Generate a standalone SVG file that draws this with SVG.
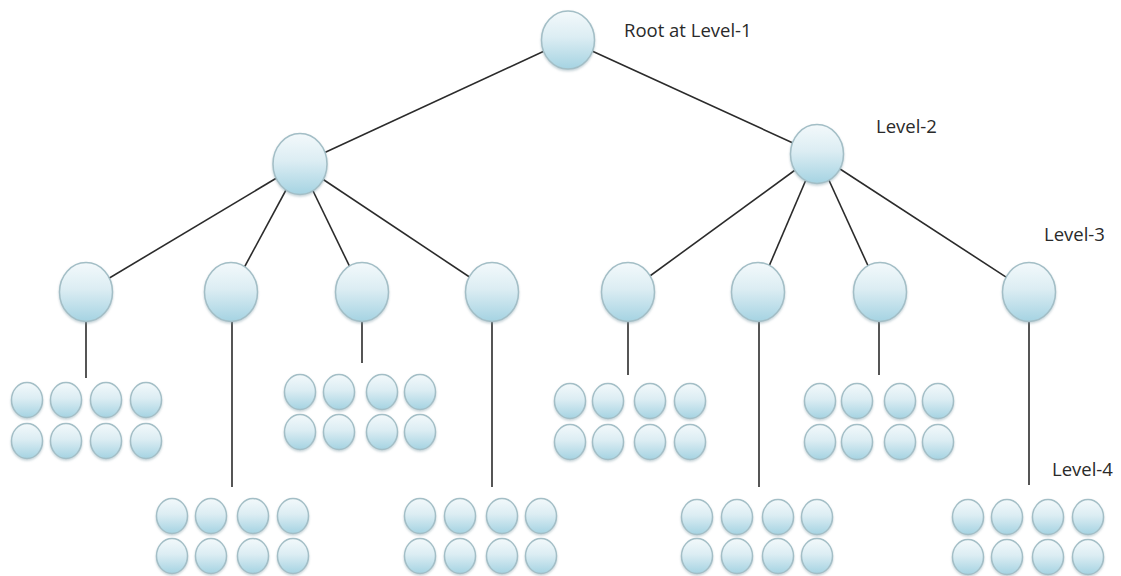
<svg xmlns="http://www.w3.org/2000/svg" width="1121" height="576" viewBox="0 0 1121 576">
<defs>
<linearGradient id="g" x1="0" y1="0" x2="0" y2="1">
<stop offset="0" stop-color="#f3f9fb"/>
<stop offset="0.45" stop-color="#dcedf3"/>
<stop offset="1" stop-color="#a5d3e2"/>
</linearGradient>
<filter id="sh" x="-20%" y="-20%" width="140%" height="150%">
<feDropShadow dx="0" dy="1.5" stdDeviation="1.2" flood-color="#7a9aa5" flood-opacity="0.45"/>
</filter>
</defs>
<style>
.n{fill:url(#g);stroke:#a3bec6;stroke-width:1.5;filter:url(#sh)}
.c line{stroke:#2b2b2b;stroke-width:1.6}
.t{font-family:"Open Sans","Liberation Sans",sans-serif;font-size:18.5px;fill:#2a2a2a}
</style>
<rect width="1121" height="576" fill="#fff"/>
<g id="connectors" class="c">
<line x1="568" y1="40" x2="300" y2="164"/>
<line x1="568" y1="40" x2="817" y2="154"/>
<line x1="300" y1="164" x2="86" y2="292"/>
<line x1="300" y1="164" x2="231" y2="292"/>
<line x1="300" y1="164" x2="362" y2="292"/>
<line x1="300" y1="164" x2="492" y2="292"/>
<line x1="817" y1="154" x2="628" y2="292"/>
<line x1="817" y1="154" x2="758" y2="292"/>
<line x1="817" y1="154" x2="880" y2="292"/>
<line x1="817" y1="154" x2="1029" y2="292"/>
<line x1="86" y1="320" x2="86" y2="378"/>
<line x1="232" y1="320" x2="232" y2="487"/>
<line x1="362" y1="320" x2="362" y2="363"/>
<line x1="492" y1="320" x2="492" y2="487"/>
<line x1="628" y1="320" x2="628" y2="375"/>
<line x1="759" y1="320" x2="759" y2="487"/>
<line x1="879" y1="320" x2="879" y2="375"/>
<line x1="1029" y1="320" x2="1029" y2="485"/>
</g>
<g id="root"><ellipse class="n" cx="568" cy="40" rx="26.5" ry="29"/></g>
<g id="l2-a"><ellipse class="n" cx="300" cy="164" rx="27" ry="30.5"/></g>
<g id="l2-b"><ellipse class="n" cx="817" cy="154" rx="26.5" ry="29.5"/></g>
<g id="l3-1"><ellipse class="n" cx="86" cy="292" rx="26.5" ry="29.5"/></g>
<g id="l3-2"><ellipse class="n" cx="231" cy="292" rx="26.5" ry="29.5"/></g>
<g id="l3-3"><ellipse class="n" cx="362" cy="292" rx="26.5" ry="29.5"/></g>
<g id="l3-4"><ellipse class="n" cx="492" cy="292" rx="26.5" ry="29.5"/></g>
<g id="l3-5"><ellipse class="n" cx="628" cy="292" rx="26.5" ry="29.5"/></g>
<g id="l3-6"><ellipse class="n" cx="758" cy="292" rx="26.5" ry="29.5"/></g>
<g id="l3-7"><ellipse class="n" cx="880" cy="292" rx="26.5" ry="29.5"/></g>
<g id="l3-8"><ellipse class="n" cx="1029" cy="292" rx="26.5" ry="29.5"/></g>
<!-- cluster 1 -->
<g id="c1-1"><ellipse class="n" cx="27" cy="400" rx="15.5" ry="17.5"/></g>
<g id="c1-2"><ellipse class="n" cx="66" cy="400" rx="15.5" ry="17.5"/></g>
<g id="c1-3"><ellipse class="n" cx="106" cy="400" rx="15.5" ry="17.5"/></g>
<g id="c1-4"><ellipse class="n" cx="146" cy="400" rx="15.5" ry="17.5"/></g>
<g id="c1-5"><ellipse class="n" cx="27" cy="441" rx="15.5" ry="17.5"/></g>
<g id="c1-6"><ellipse class="n" cx="66" cy="441" rx="15.5" ry="17.5"/></g>
<g id="c1-7"><ellipse class="n" cx="106" cy="441" rx="15.5" ry="17.5"/></g>
<g id="c1-8"><ellipse class="n" cx="146" cy="441" rx="15.5" ry="17.5"/></g>
<!-- cluster 2 -->
<g id="c2-1"><ellipse class="n" cx="172" cy="516" rx="15.5" ry="17.5"/></g>
<g id="c2-2"><ellipse class="n" cx="211" cy="516" rx="15.5" ry="17.5"/></g>
<g id="c2-3"><ellipse class="n" cx="253" cy="516" rx="15.5" ry="17.5"/></g>
<g id="c2-4"><ellipse class="n" cx="293" cy="516" rx="15.5" ry="17.5"/></g>
<g id="c2-5"><ellipse class="n" cx="172" cy="556" rx="15.5" ry="17.5"/></g>
<g id="c2-6"><ellipse class="n" cx="211" cy="556" rx="15.5" ry="17.5"/></g>
<g id="c2-7"><ellipse class="n" cx="253" cy="556" rx="15.5" ry="17.5"/></g>
<g id="c2-8"><ellipse class="n" cx="293" cy="556" rx="15.5" ry="17.5"/></g>
<!-- cluster 3 -->
<g id="c3-1"><ellipse class="n" cx="300" cy="392" rx="15.5" ry="17.5"/></g>
<g id="c3-2"><ellipse class="n" cx="339" cy="392" rx="15.5" ry="17.5"/></g>
<g id="c3-3"><ellipse class="n" cx="382" cy="392" rx="15.5" ry="17.5"/></g>
<g id="c3-4"><ellipse class="n" cx="420" cy="392" rx="15.5" ry="17.5"/></g>
<g id="c3-5"><ellipse class="n" cx="300" cy="432" rx="15.5" ry="17.5"/></g>
<g id="c3-6"><ellipse class="n" cx="339" cy="432" rx="15.5" ry="17.5"/></g>
<g id="c3-7"><ellipse class="n" cx="382" cy="432" rx="15.5" ry="17.5"/></g>
<g id="c3-8"><ellipse class="n" cx="420" cy="432" rx="15.5" ry="17.5"/></g>
<!-- cluster 4 -->
<g id="c4-1"><ellipse class="n" cx="420" cy="516" rx="15.5" ry="17.5"/></g>
<g id="c4-2"><ellipse class="n" cx="460" cy="516" rx="15.5" ry="17.5"/></g>
<g id="c4-3"><ellipse class="n" cx="502" cy="516" rx="15.5" ry="17.5"/></g>
<g id="c4-4"><ellipse class="n" cx="541" cy="516" rx="15.5" ry="17.5"/></g>
<g id="c4-5"><ellipse class="n" cx="420" cy="556" rx="15.5" ry="17.5"/></g>
<g id="c4-6"><ellipse class="n" cx="460" cy="556" rx="15.5" ry="17.5"/></g>
<g id="c4-7"><ellipse class="n" cx="502" cy="556" rx="15.5" ry="17.5"/></g>
<g id="c4-8"><ellipse class="n" cx="541" cy="556" rx="15.5" ry="17.5"/></g>
<!-- cluster 5 -->
<g id="c5-1"><ellipse class="n" cx="570" cy="401" rx="15.5" ry="17.5"/></g>
<g id="c5-2"><ellipse class="n" cx="608" cy="401" rx="15.5" ry="17.5"/></g>
<g id="c5-3"><ellipse class="n" cx="650" cy="401" rx="15.5" ry="17.5"/></g>
<g id="c5-4"><ellipse class="n" cx="690" cy="401" rx="15.5" ry="17.5"/></g>
<g id="c5-5"><ellipse class="n" cx="570" cy="442" rx="15.5" ry="17.5"/></g>
<g id="c5-6"><ellipse class="n" cx="608" cy="442" rx="15.5" ry="17.5"/></g>
<g id="c5-7"><ellipse class="n" cx="650" cy="442" rx="15.5" ry="17.5"/></g>
<g id="c5-8"><ellipse class="n" cx="690" cy="442" rx="15.5" ry="17.5"/></g>
<!-- cluster 6 -->
<g id="c6-1"><ellipse class="n" cx="697" cy="517" rx="15.5" ry="17.5"/></g>
<g id="c6-2"><ellipse class="n" cx="737" cy="517" rx="15.5" ry="17.5"/></g>
<g id="c6-3"><ellipse class="n" cx="778" cy="517" rx="15.5" ry="17.5"/></g>
<g id="c6-4"><ellipse class="n" cx="817" cy="517" rx="15.5" ry="17.5"/></g>
<g id="c6-5"><ellipse class="n" cx="697" cy="556" rx="15.5" ry="17.5"/></g>
<g id="c6-6"><ellipse class="n" cx="737" cy="556" rx="15.5" ry="17.5"/></g>
<g id="c6-7"><ellipse class="n" cx="778" cy="556" rx="15.5" ry="17.5"/></g>
<g id="c6-8"><ellipse class="n" cx="817" cy="556" rx="15.5" ry="17.5"/></g>
<!-- cluster 7 -->
<g id="c7-1"><ellipse class="n" cx="820" cy="401" rx="15.5" ry="17.5"/></g>
<g id="c7-2"><ellipse class="n" cx="857" cy="401" rx="15.5" ry="17.5"/></g>
<g id="c7-3"><ellipse class="n" cx="900" cy="401" rx="15.5" ry="17.5"/></g>
<g id="c7-4"><ellipse class="n" cx="938" cy="401" rx="15.5" ry="17.5"/></g>
<g id="c7-5"><ellipse class="n" cx="820" cy="442" rx="15.5" ry="17.5"/></g>
<g id="c7-6"><ellipse class="n" cx="857" cy="442" rx="15.5" ry="17.5"/></g>
<g id="c7-7"><ellipse class="n" cx="900" cy="442" rx="15.5" ry="17.5"/></g>
<g id="c7-8"><ellipse class="n" cx="938" cy="442" rx="15.5" ry="17.5"/></g>
<!-- cluster 8 -->
<g id="c8-1"><ellipse class="n" cx="968" cy="517" rx="15.5" ry="17.5"/></g>
<g id="c8-2"><ellipse class="n" cx="1007" cy="517" rx="15.5" ry="17.5"/></g>
<g id="c8-3"><ellipse class="n" cx="1048" cy="517" rx="15.5" ry="17.5"/></g>
<g id="c8-4"><ellipse class="n" cx="1088" cy="517" rx="15.5" ry="17.5"/></g>
<g id="c8-5"><ellipse class="n" cx="968" cy="557" rx="15.5" ry="17.5"/></g>
<g id="c8-6"><ellipse class="n" cx="1007" cy="557" rx="15.5" ry="17.5"/></g>
<g id="c8-7"><ellipse class="n" cx="1048" cy="557" rx="15.5" ry="17.5"/></g>
<g id="c8-8"><ellipse class="n" cx="1088" cy="557" rx="15.5" ry="17.5"/></g>
<g id="labels">
<text class="t" x="624" y="37">Root at Level-1</text>
<text class="t" x="876" y="133">Level-2</text>
<text class="t" x="1044" y="241">Level-3</text>
<text class="t" x="1052" y="476">Level-4</text>
</g>
</svg>
